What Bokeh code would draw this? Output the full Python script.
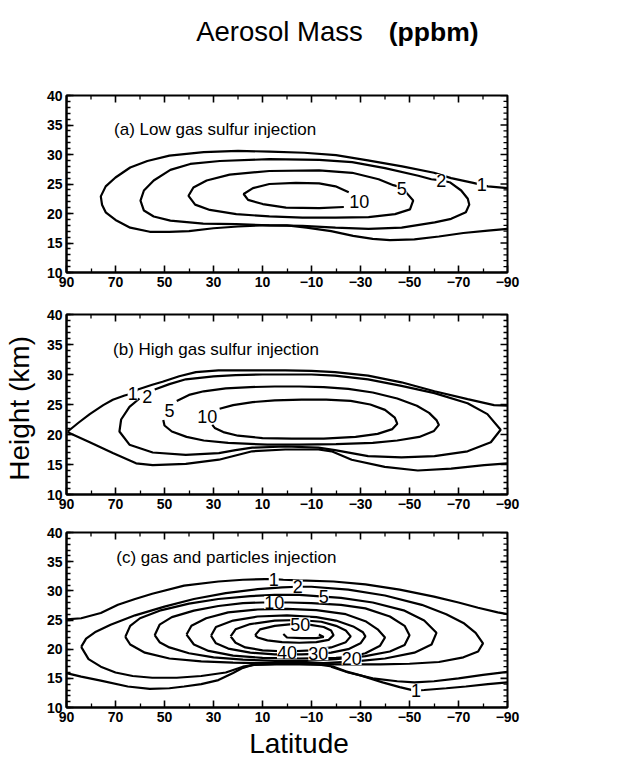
from bokeh.plotting import figure
from bokeh.models import (Range1d, FixedTicker, SingleIntervalTicker, LabelSet, Label,
                          ColumnDataSource)
from bokeh.core.properties import value
from bokeh.layouts import column
from bokeh.embed import file_html
from bokeh.resources import INLINE
import math

# ---------------- axis ticks ----------------
X_TICKS = [90, 70, 50, 30, 10, -10, -30, -50, -70, -90]
X_MINOR = [80, 60, 40, 20, 0, -20, -40, -60, -80]
Y_TICKS = [10, 15, 20, 25, 30, 35, 40]
Y_MINOR = [11, 12, 13, 14, 16, 17, 18, 19, 21, 22, 23, 24, 26, 27, 28, 29, 31, 32, 33, 34, 36, 37, 38, 39]
LAT_RANGE = (90, -90)
HGT_RANGE = (10, 40)

# ---------------- panel (a): low gas sulfur injection ----------------
A_C1_LAT = [-90, -82, -76, -67, -60, -47, -33, -20, -7, 7, 20, 34, 48, 57, 64, 70, 74, 76, 75.5, 74, 70, 64,
            56, 48, 40, 30, 20, 10, 0, -8, -18, -27, -35, -42, -52, -62, -72, -82, -90]
A_C1_HGT = [24.3, 24.6, 25.2, 26.0, 26.9, 28.0, 29.0, 29.9, 30.3, 30.5, 30.6, 30.4, 29.8, 28.9, 27.8, 26.1,
            24.6, 22.9, 21.5, 20.2, 18.9, 17.6, 16.9, 16.9, 17.0, 17.5, 17.8, 18.0, 18.0, 17.6, 17.0, 16.2,
            15.7, 15.5, 15.6, 16.1, 16.7, 17.1, 17.4]
A_C2_LAT = [-66.4, -71.1, -73.8, -74.4, -73, -67, -60.3, -46.8, -33.3, -19.8, -6.3, 7.2, 20.7, 34.2, 47.6,
            54.4, 58.4, 59.8, 58.4, 54.4, 47.6, 39.5, 27.4, 7.2, -13.1, -26.6, -40, -53.6, -58.9, -63, -66.4]
A_C2_HGT = [25.3, 23.9, 22.5, 21.5, 20.2, 19.1, 18.5, 17.6, 17.4, 17.6, 17.9, 18.0, 18.2, 18.3, 18.8,
            19.5, 20.5, 22.2, 23.9, 25.6, 27.4, 28.4, 28.9, 29.2, 29.1, 28.7, 27.7, 26.4, 25.8, 25.6, 25.3]
A_C5_LAT = [-48.8, -51.5, -50.2, -44.1, -33.3, -19.8, -6.3, 7.2, 20.7, 31.5, 37.5, 40.2, 38.2, 32.8, 23.4,
            7.2, -13.1, -26.6, -37.4, -43.4, -46.8, -48.8]
A_C5_HGT = [23.5, 22.2, 20.7, 19.9, 19.4, 19.3, 19.3, 19.5, 19.9, 20.6, 21.5, 23.0, 24.4, 25.6, 26.6,
            27.2, 27.3, 26.9, 25.8, 24.8, 24.4, 23.5]
A_C10_LAT = [-25.2, -19.8, -13.1, -3.6, 7.2, 13.9, 17.7, 15.9, 9.9, 0.4, -13.1, -23.2]
A_C10_HGT = [23.6, 24.6, 25.1, 25.2, 25.0, 24.3, 23.3, 22.3, 21.6, 21.0, 20.9, 21.1]
A_LBL_TEXT = ["1", "2", "5", "10"]
A_LBL_LAT = [-79.5, -63, -46.8, -29.5]
A_LBL_HGT = [24.9, 25.6, 24.3, 22.0]

# ---------------- panel (b): high gas sulfur injection ----------------
B_C1U_LAT = [89.5, 85, 80.5, 75, 71.1, 66.3, 62.5, 60.9, 55, 50.8, 44, 37.2, 28, 21, 10, 0.7, -10, -19.6,
             -33.1, -46.7, -60.2, -73.7, -84.5, -90]
B_C1U_HGT = [20.5, 22.0, 23.4, 24.9, 25.8, 26.5, 26.9, 27.5, 28.3, 28.8, 29.7, 30.4, 30.7, 30.7, 30.7, 30.7,
             30.6, 30.4, 29.8, 28.7, 27.2, 25.9, 24.9, 24.8]
B_C1L_LAT = [89.5, 88.6, 80.5, 71.1, 61.6, 54.8, 41.3, 27.8, 21, 14.2, 0.7, -12.8, -18.2, -26.4, -39.9,
             -53.4, -67, -80.5, -90]
B_C1L_HGT = [20.5, 20.2, 18.7, 16.9, 15.2, 14.9, 15.1, 15.8, 16.5, 17.2, 17.5, 17.5, 17.2, 15.8, 14.6,
             14.0, 14.3, 14.9, 15.2]
B_C2_LAT = [54, 48, 41.3, 30, 21, 10, 0.7, -10, -19.6, -33.1, -46.7, -60.2, -73.7, -81.8, -87.2, -83.2,
            -73.7, -60.2, -46.7, -33.1, -19.6, -12.8, 0.7, 14.2, 21, 27.8, 41.3, 54.8, 64.3, 68.4, 67.7,
            64.3, 60.2]
B_C2_HGT = [27.5, 28.4, 29.2, 29.7, 29.9, 30.0, 30.0, 30.0, 29.8, 29.2, 28.1, 26.9, 25.2, 23.4, 20.8, 18.7,
            17.2, 16.4, 16.2, 16.4, 17.4, 17.8, 18.0, 17.8, 17.4, 16.9, 16.6, 17.0, 18.3, 20.5, 22.5,
            24.6, 26.0]
B_C5_LAT = [45, 40, 34, 25, 15, 5, -5, -15, -25, -35, -45, -53, -58, -61, -62, -60, -54, -45, -35, -20, -5,
            8, 24, 34, 41, 47, 50, 50.5]
B_C5_HGT = [25.6, 26.6, 27.2, 27.7, 27.9, 28.0, 28.0, 27.9, 27.6, 27.0, 26.0, 24.8, 23.6, 22.4, 21.6, 20.6,
            19.6, 19.0, 18.6, 18.4, 18.3, 18.3, 18.6, 19.0, 19.6, 20.5, 21.5, 22.4]
B_C10_LAT = [27.5, 22, 14, 5, -6, -16, -26, -34, -40, -44, -45, -43, -37, -28, -15, -2, 10, 20, 26, 29.5,
             30.5]
B_C10_HGT = [24.3, 24.9, 25.4, 25.7, 25.8, 25.8, 25.6, 25.0, 24.1, 22.8, 21.8, 20.9, 20.1, 19.6, 19.3,
             19.3, 19.4, 19.8, 20.4, 21.1, 21.6]
B_LBL_TEXT = ["1", "2", "5", "10"]
B_LBL_LAT = [63, 57, 48, 32.5]
B_LBL_HGT = [26.8, 26.4, 24.0, 23.0]

# ---------------- panel (c): gas and particles injection ----------------
C_C1T_LAT = [90, 84, 76, 69, 62, 55, 42, 28, 18, 9, 5, 1.5, -5, -19, -32, -46, -60, -70, -78, -86, -90]
C_C1T_HGT = [25.1, 25.3, 26.2, 27.6, 28.6, 29.5, 30.9, 31.6, 31.9, 32.0, 32.0, 31.9, 31.8, 31.6, 31.1,
             30.2, 29.0, 28.0, 27.1, 26.3, 26.0]
C_C1B_LAT = [90, 84, 76, 65, 56, 48, 42, 35, 28, 22, 18, 14, 5, -5, -14, -19, -24, -30, -39, -46, -52, -56,
             -65, -73, -82, -90]
C_C1B_HGT = [15.9, 15.3, 14.6, 13.6, 13.2, 13.3, 13.6, 14.0, 14.7, 15.9, 16.8, 17.3, 17.4, 17.4, 17.3,
             17.0, 16.2, 15.5, 14.3, 13.5, 12.9, 13.0, 13.3, 13.6, 14.0, 14.3]
C_C1R_LAT = [-18, -25, -35, -45, -52, -60, -70, -80, -90]
C_C1R_HGT = [17.0, 16.0, 15.0, 14.5, 14.3, 14.5, 15.0, 15.6, 16.1]
C_C2_LAT = [84, 82, 78, 72, 62, 50, 38, 25, 12, 2, -4.4, -10, -25, -40, -55, -65, -72, -77, -80, -78, -72,
            -62, -50, -38, -28, -20, -10, 0, 12, 18, 25, 35, 45, 55, 63, 70, 76, 81, 84]
C_C2_HGT = [20.4, 21.8, 23.0, 24.2, 25.8, 27.3, 28.6, 29.6, 30.3, 30.6, 30.7, 30.7, 30.2, 29.2, 27.6, 26.0,
            24.5, 22.8, 21.0, 19.6, 18.6, 17.8, 17.5, 17.4, 17.4, 17.4, 17.5, 17.5, 17.4, 17.0, 16.0, 15.4,
            15.1, 15.1, 15.4, 16.0, 17.0, 18.3, 20.4]
C_C5_LAT = [66, 64, 60, 52, 40, 28, 15, 5, -5, -15, -22, -35, -48, -56, -61, -59, -52, -40, -28, -15, 0, 12,
            22, 35, 48, 58, 64, 66]
C_C5_HGT = [22.1, 24.0, 25.3, 26.6, 27.8, 28.6, 29.1, 29.3, 29.3, 29.0, 28.8, 28.0, 26.6, 24.9, 22.8, 20.8,
            19.4, 18.4, 17.9, 17.6, 17.6, 17.6, 17.7, 17.9, 18.4, 19.4, 20.8, 22.1]
C_C10_LAT = [54, 52, 47, 38, 28, 18, 10, 5, -1, -10, -22, -32, -42, -48, -50, -48, -42, -32, -20, -8, 5, 18,
             30, 40, 48, 52, 54]
C_C10_HGT = [22.4, 24.2, 25.5, 26.6, 27.4, 27.9, 28.0, 28.0, 28.0, 27.9, 27.6, 27.0, 25.6, 24.0, 22.4,
             20.7, 19.6, 18.8, 18.3, 18.0, 18.0, 18.2, 18.6, 19.3, 20.3, 21.2, 22.4]
C_C20_LAT = [41, 39, 33, 24, 12, 0, -12, -24, -32, -37, -40, -38, -32, -26, -20, -5, 10, 22, 32, 38, 41]
C_C20_HGT = [22.5, 24.0, 25.3, 26.3, 26.8, 26.9, 26.7, 26.0, 24.8, 23.4, 22.0, 20.6, 19.3, 18.7, 18.5,
             18.4, 18.5, 18.9, 19.7, 20.8, 22.5]
C_C30_LAT = [31, 29, 22, 12, 0, -12, -20, -27, -31, -32, -30, -25, -18, -12, -6, 5, 15, 24, 29, 31]
C_C30_HGT = [22.3, 23.8, 24.9, 25.6, 25.8, 25.5, 24.9, 23.9, 22.9, 22.2, 21.0, 20.0, 19.4, 19.2, 19.1,
             19.1, 19.4, 20.1, 21.0, 22.3]
C_C40_LAT = [23, 21, 15, 5, -5, -14, -20, -24, -26, -24, -18, -10, 0, 10, 17, 21, 23]
C_C40_HGT = [22.2, 23.4, 24.3, 24.9, 25.0, 24.7, 24.0, 23.2, 22.2, 21.2, 20.3, 19.8, 19.6, 19.8, 20.3,
             21.1, 22.2]
C_C50_LAT = [13, 11, 5, -2, -9, -15, -18, -19, -17, -12, -5, 2, 8, 12, 13]
C_C50_HGT = [22.4, 23.4, 24.0, 24.3, 24.2, 23.8, 23.2, 22.4, 21.6, 21.2, 21.1, 21.2, 21.5, 22.0, 22.4]
C_IN_LAT = [1.5, 0, -6, -12, -15, -13]
C_IN_HGT = [22.6, 22.0, 21.9, 21.9, 22.1, 22.5]
C_LBL_TEXT = ["1", "2", "5", "10", "50", "40", "30", "20", "1"]
C_LBL_LAT = [5.4, -4.4, -15, 5.2, -5.4, 0, -12.8, -26.4, -52.7]
C_LBL_HGT = [31.9, 30.8, 29.0, 28.0, 24.3, 19.5, 19.2, 18.4, 12.9]

PANEL_TEXT = ["(a) Low gas sulfur injection", "(b) High gas sulfur injection",
              "(c) gas and particles injection"]
TITLE_MAIN = "Aerosol Mass"
TITLE_UNIT = "(ppbm)"
X_LABEL = "Latitude"
Y_LABEL = "Height  (km)"

FONT = "Liberation Sans"
# the column layout aligns every figure's frame to the widest borders: left 65 px, right 129 px
BORDER_L, BORDER_R = 65, 129
FRAME_X = (BORDER_L, 636 - BORDER_R)


def make_fig(height, top, bottom, left, right):
    p = figure(width=636, height=height, x_range=Range1d(*LAT_RANGE), y_range=Range1d(*HGT_RANGE),
               output_backend="svg", toolbar_location=None,
               min_border_top=top, min_border_bottom=bottom,
               min_border_left=left, min_border_right=right)
    p.xgrid.visible = False
    p.ygrid.visible = False
    p.outline_line_color = "black"
    p.outline_line_width = 2
    p.background_fill_color = "white"
    p.border_fill_color = "white"
    p.xaxis.ticker = FixedTicker(ticks=X_TICKS, minor_ticks=X_MINOR)
    p.yaxis.ticker = SingleIntervalTicker(interval=5, num_minor_ticks=5)
    for ax in [p.xaxis[0], p.yaxis[0]]:
        ax.axis_line_width = 2
        ax.major_tick_in = 7
        ax.major_tick_out = 0
        ax.minor_tick_in = 4
        ax.minor_tick_out = 0
        ax.major_tick_line_width = 1.6
        ax.minor_tick_line_width = 1.3
        ax.major_label_text_font = FONT
        ax.major_label_text_font_style = "bold"
        ax.major_label_text_font_size = "14px"
        ax.major_label_text_color = "black"
        ax.major_label_standoff = 4
    # mirrored inward ticks on the top and right frame edges (half of each dash is clipped by the frame)
    top_y = HGT_RANGE[1]
    right_x = LAT_RANGE[1]
    p.scatter(X_TICKS, [top_y] * len(X_TICKS), marker="dash", size=14, angle=math.pi / 2,
              line_color="black", line_width=1.6)
    p.scatter(X_MINOR, [top_y] * len(X_MINOR), marker="dash", size=8, angle=math.pi / 2,
              line_color="black", line_width=1.3)
    p.scatter([right_x] * len(Y_TICKS), Y_TICKS, marker="dash", size=14,
              line_color="black", line_width=1.6)
    p.scatter([right_x] * len(Y_MINOR), Y_MINOR, marker="dash", size=8,
              line_color="black", line_width=1.3)
    return p


def add_lines(p, lines):
    for lat, hgt in lines:
        p.line(lat, hgt, line_color="black", line_width=2.2)


def add_labels(p, texts, lats, hgts):
    src = ColumnDataSource(dict(x=lats, y=hgts, t=texts))
    p.add_layout(LabelSet(x="x", y="y", text="t", source=src, text_align="center",
                          text_baseline="middle", text_font=value(FONT), text_font_size=value("18px"),
                          text_color=value("black"), background_fill_color=value("white")))


def panel_text(p, text, lat, hgt):
    p.add_layout(Label(x=lat, y=hgt, text=text, text_align="left", text_baseline="middle",
                       text_font=FONT, text_font_size="17px", text_color="black"))


def text_strip(height):
    # no axes; x in page pixels over the frame, y in pixels from the strip bottom
    s = figure(width=636, height=height, x_range=Range1d(*FRAME_X), y_range=Range1d(0, height),
               x_axis_type=None, y_axis_type=None,
               output_backend="svg", toolbar_location=None,
               min_border_left=BORDER_L, min_border_right=BORDER_R,
               min_border_top=0, min_border_bottom=0)
    s.grid.visible = False
    s.outline_line_color = None
    return s


# title strip
pt = text_strip(62)
pt.text(x=[195], y=[31], text=[TITLE_MAIN], text_align="left", text_baseline="alphabetic",
        text_font=value(FONT), text_font_size="27.5px", text_color="black")
pt.text(x=[388], y=[31], text=[TITLE_UNIT], text_align="left", text_baseline="alphabetic",
        text_font=value(FONT), text_font_size="26.5px", text_font_style="bold", text_color="black")

# panel a
pa = make_fig(231, 33, 21, 62, 129)
add_lines(pa, [(A_C1_LAT, A_C1_HGT), (A_C2_LAT, A_C2_HGT), (A_C5_LAT, A_C5_HGT), (A_C10_LAT, A_C10_HGT)])
add_labels(pa, A_LBL_TEXT, A_LBL_LAT, A_LBL_HGT)
panel_text(pa, PANEL_TEXT[0], 70.6, 34.2)

# panel b
pb = make_fig(222, 21, 21, 63, 129)
add_lines(pb, [(B_C1U_LAT, B_C1U_HGT), (B_C1L_LAT, B_C1L_HGT), (B_C2_LAT, B_C2_HGT),
               (B_C5_LAT, B_C5_HGT), (B_C10_LAT, B_C10_HGT)])
add_labels(pb, B_LBL_TEXT, B_LBL_LAT, B_LBL_HGT)
panel_text(pb, PANEL_TEXT[1], 71, 34.2)
pb.yaxis.axis_label = Y_LABEL
pb.yaxis.axis_label_text_font = FONT
pb.yaxis.axis_label_text_font_style = "normal"
pb.yaxis.axis_label_text_font_size = "28px"
pb.yaxis.axis_label_text_color = "black"
pb.yaxis.axis_label_standoff = 9

# panel c
pc = make_fig(213, 17, 21, 65, 128)
add_lines(pc, [(C_C1T_LAT, C_C1T_HGT), (C_C1B_LAT, C_C1B_HGT), (C_C1R_LAT, C_C1R_HGT),
               (C_C2_LAT, C_C2_HGT), (C_C5_LAT, C_C5_HGT), (C_C10_LAT, C_C10_HGT),
               (C_C20_LAT, C_C20_HGT), (C_C30_LAT, C_C30_HGT), (C_C40_LAT, C_C40_HGT),
               (C_C50_LAT, C_C50_HGT), (C_IN_LAT, C_IN_HGT)])
add_labels(pc, C_LBL_TEXT, C_LBL_LAT, C_LBL_HGT)
panel_text(pc, PANEL_TEXT[2], 69.7, 35.8)

# x-axis title strip
pl = text_strip(35)
pl.text(x=[298], y=[20], text=[X_LABEL], text_align="center", text_baseline="alphabetic",
        text_font=value(FONT), text_font_size="28px", text_color="black")

layout = column(pt, pa, pb, pc, pl, spacing=0)
open("out.html", "w").write(file_html(layout, INLINE))
